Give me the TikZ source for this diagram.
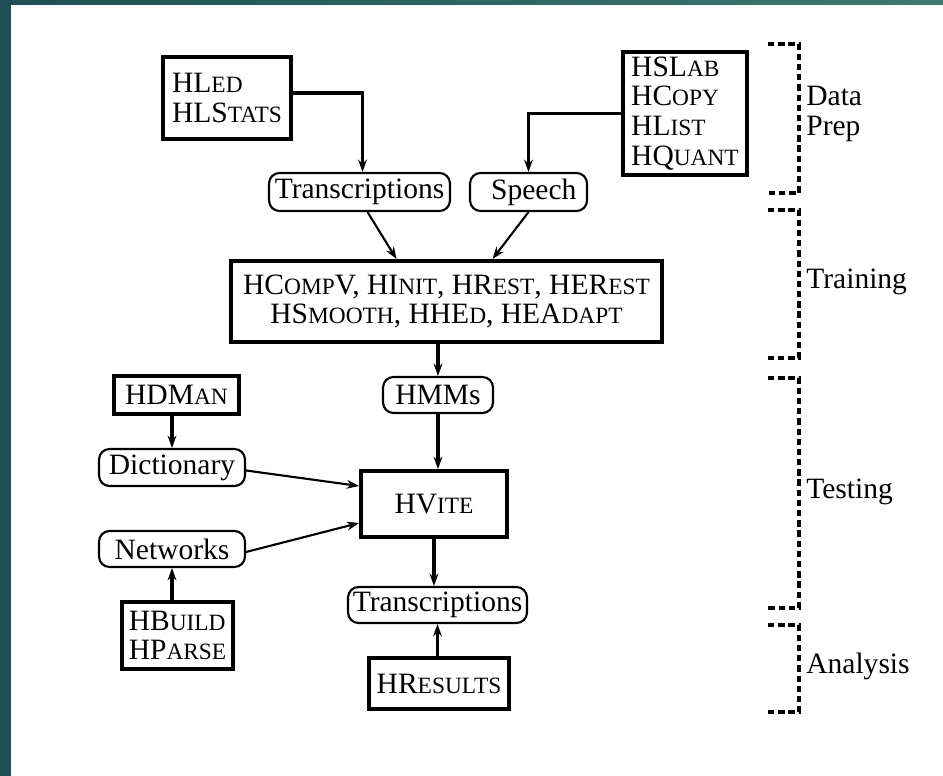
\documentclass[tikz,border=0pt]{standalone}
\usepackage{fontspec}
\setmainfont{Liberation Serif}
\usetikzlibrary{calc,arrows.meta}

\definecolor{tealdark}{HTML}{1F4F55}
\definecolor{teallight}{HTML}{3D7A70}

% small capitals for the tool names
\newcommand{\lsc}[1]{{\fontsize{13.3pt}{17pt}\selectfont #1}}

\begin{document}
\begin{tikzpicture}[x=0.02cm,y=-0.02cm,
  font=\rmfamily\fontsize{16.8pt}{17pt}\selectfont,
  tool/.style={draw, line width=2.2pt, inner sep=0pt, align=left},
  data/.style={draw, rounded corners=6pt, line width=1.2pt, inner sep=0pt},
  feed/.style={line width=2.1pt, -{Stealth[length=7pt,width=5pt]}},
  flow/.style={line width=1.2pt, -{Stealth[length=7pt,width=5pt]}},
  phase/.style={line width=2.2pt, dash pattern=on 3.6pt off 2.2pt},
  phaselabel/.style={anchor=west, align=left, inner sep=0pt}]

% Frame
\useasboundingbox (0,0) rectangle (943,776);
\fill[white] (0,0) rectangle (943,776);
\fill[tealdark] (0,0) rectangle (11,776);
\shade[left color=tealdark, right color=teallight] (0,0) rectangle (943,5);

% Data preparation
\node[tool, minimum width=2.56cm, minimum height=1.64cm] (hled) at (227,98)
  {HL\lsc{ED}\\HLS\lsc{TATS}};
\node[tool, minimum width=2.48cm, minimum height=2.46cm] (hslab) at (685,113.5)
  {HSL\lsc{AB}\\HC\lsc{OPY}\\HL\lsc{IST}\\HQ\lsc{UANT}};
\node[data, minimum width=3.62cm, minimum height=0.76cm] (transA) at (359.5,192) {Transcriptions};
\node[data, minimum width=2.34cm, minimum height=0.76cm] (speech) at (528.5,192) {\hspace{6pt}Speech};

% Training
\node[tool, align=center, minimum width=8.62cm, minimum height=1.62cm] (train) at (446.5,301.5)
  {HC\lsc{OMP}V, HI\lsc{NIT}, HR\lsc{EST}, HER\lsc{EST}\\HS\lsc{MOOTH}, HHE\lsc{D}, HEA\lsc{DAPT}};
\node[data, minimum width=2.2cm, minimum height=0.72cm] (hmms) at (438,395) {HMMs};

% Testing
\node[tool, minimum width=2.5cm, minimum height=0.76cm] (hdman) at (176.5,395) {HDM\lsc{AN}};
\node[data, minimum width=2.92cm, minimum height=0.74cm] (dict) at (172,467.5) {Dictionary};
\node[data, minimum width=2.92cm, minimum height=0.72cm] (netw) at (172,549) {Networks};
\node[tool, minimum width=2.22cm, minimum height=1.34cm] (hbuild) at (177.5,635.5)
  {HB\lsc{UILD}\\HP\lsc{ARSE}};
\node[tool, minimum width=2.92cm, minimum height=1.32cm] (hvite) at (434,504) {HV\lsc{ITE}};

% Analysis
\node[data, minimum width=3.58cm, minimum height=0.72cm] (transB) at (437.5,605) {Transcriptions};
\node[tool, minimum width=2.8cm, minimum height=1.02cm] (hresults) at (439,683.5) {HR\lsc{ESULTS}};

% Connectors
\draw[feed] ($(hled.east)+(0,-5)$) -| ($(transA.north)+(3,0)$);
\draw[feed] (hslab.west) -| (speech.north);
\draw[flow] ($(transA.south)+(8,0)$) -- ($(train.north)+(-50,0)$);
\draw[flow] (speech.south) -- ($(train.north)+(46,0)$);
\draw[feed] (train.south -| hmms.north) -- (hmms.north);
\draw[feed] (hmms.south) -- (hmms.south |- hvite.north);
\draw[feed] (hdman.south -| dict.north) -- (dict.north);
\draw[flow] ($(dict.east)+(0,3)$) -- ($(hvite.west)+(0,-18)$);
\draw[flow] ($(netw.east)+(0,3)$) -- ($(hvite.west)+(0,19)$);
\draw[feed] (hbuild.north -| netw.south) -- (netw.south);
\draw[feed] (hvite.south) -- (hvite.south |- transB.north);
\draw[feed] (hresults.north -| transB.south) -- (transB.south);

% Phases
\draw[phase] (768,44) -- (799,44) -- (799,193) -- (768,193);
\draw[phase] (768,210) -- (799,210) -- (799,358) -- (768,358);
\draw[phase] (768,378) -- (799,378) -- (799,608) -- (768,608);
\draw[phase] (768,625) -- (799,625) -- (799,712) -- (768,712);
\node[phaselabel] (prep) at (806,114) {Data\\Prep};
\node[phaselabel] (training) at (806,282) {Training};
\node[phaselabel] (testing) at (806,492) {Testing};
\node[phaselabel] (analysis) at (806,666) {Analysis};

\end{tikzpicture}
\end{document}
